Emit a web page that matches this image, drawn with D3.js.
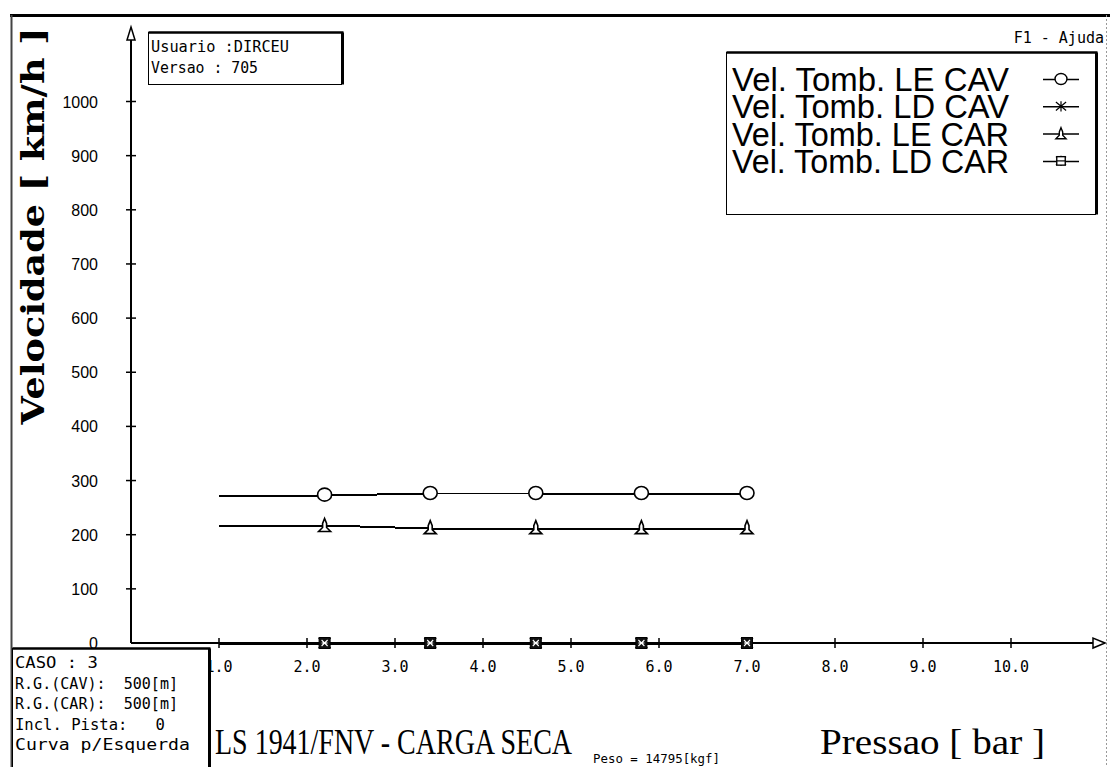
<!DOCTYPE html>
<html>
<head>
<meta charset="utf-8">
<script src="https://cdn.jsdelivr.net/npm/d3@7"></script>
<title>Velocidade x Pressao</title>
<style>
body { margin: 0; background: #fff; }
svg { display: block; }
.mono { font-family: "DejaVu Sans Mono", "Liberation Mono", monospace; }
</style>
</head>
<body>
<div id="viz"></div>
<script>

// dados
var pressao = [2.2, 3.4, 4.6, 5.8, 7.0];
var inicioLinha = 1.0;
var velLECAV = [274, 277, 277, 277, 277];
var velLDCAV = [0, 0, 0, 0, 0];
var velLECAR = [217, 213, 213, 213, 213];
var velLDCAR = [0, 0, 0, 0, 0];
var yTicks = [0, 100, 200, 300, 400, 500, 600, 700, 800, 900, 1000];
var xTicks = [1, 2, 3, 4, 5, 6, 7, 8, 9, 10];
var legenda = ["Vel. Tomb. LE CAV", "Vel. Tomb. LD CAV", "Vel. Tomb. LE CAR", "Vel. Tomb. LD CAR"];
var infoTopo = ["Usuario :DIRCEU", "Versao : 705"];
var infoCaso = ["CASO : 3", "R.G.(CAV):  500[m]", "R.G.(CAR):  500[m]", "Incl. Pista:   0", "Curva p/Esquerda"];

var W = 1110, H = 767;
var svg = d3.select("#viz").append("svg").attr("width", W).attr("height", H);

var x = d3.scaleLinear().domain([0, 10]).range([131, 1011]);
var y = d3.scaleLinear().domain([0, 1000]).range([643, 101.5]);

// moldura
svg.append("line").attr("x1", 10).attr("x2", W).attr("y1", 15.5).attr("y2", 15.5)
    .attr("stroke", "#000").attr("stroke-width", 3);
svg.append("line").attr("x1", 11.5).attr("x2", 11.5).attr("y1", 15).attr("y2", H)
    .attr("stroke", "#444").attr("stroke-width", 2);
svg.append("line").attr("x1", 1106.5).attr("x2", 1106.5).attr("y1", 15).attr("y2", H)
    .attr("stroke", "#999").attr("stroke-width", 1).attr("stroke-dasharray", "2,2");

svg.append("text").attr("class", "mono").attr("x", 1104).attr("y", 43)
    .attr("text-anchor", "end").attr("font-size", 15).text("F1 - Ajuda");

// eixos
var x0 = x(0), y0 = y(0);
svg.append("line").attr("x1", x0).attr("x2", x0).attr("y1", y0).attr("y2", 40)
    .attr("stroke", "#000").attr("stroke-width", 2);
svg.append("path").attr("d", "M" + x0 + ",27 L" + (x0 + 4) + ",40 L" + (x0 - 4) + ",40 Z")
    .attr("fill", "#fff").attr("stroke", "#000").attr("stroke-width", 1.5);
svg.append("line").attr("x1", x0).attr("x2", 1093).attr("y1", y0).attr("y2", y0)
    .attr("stroke", "#000").attr("stroke-width", 2);
svg.append("path").attr("d", "M1105," + y0 + " L1093," + (y0 - 5) + " L1093," + (y0 + 5) + " Z")
    .attr("fill", "#fff").attr("stroke", "#000").attr("stroke-width", 1.5);

svg.selectAll("line.ytick").data(yTicks.filter(function(d){ return d > 0; }))
    .enter().append("line").attr("class", "ytick")
    .attr("x1", x0 - 5).attr("x2", x0 + 5)
    .attr("y1", function(d){ return y(d); }).attr("y2", function(d){ return y(d); })
    .attr("stroke", "#000").attr("stroke-width", 1.5);
svg.selectAll("text.ylab").data(yTicks)
    .enter().append("text").attr("class", "ylab")
    .attr("x", 98).attr("y", function(d){ return y(d) + 6; })
    .attr("text-anchor", "end")
    .attr("font-family", "Liberation Sans, Arial, sans-serif").attr("font-size", 16)
    .text(function(d){ return d; });

svg.selectAll("line.xtick").data(xTicks)
    .enter().append("line").attr("class", "xtick")
    .attr("x1", function(d){ return x(d); }).attr("x2", function(d){ return x(d); })
    .attr("y1", y0 - 5).attr("y2", y0 + 5)
    .attr("stroke", "#000").attr("stroke-width", 1.5);
svg.selectAll("text.xlab").data(xTicks)
    .enter().append("text").attr("class", "xlab mono")
    .attr("x", function(d){ return x(d); }).attr("y", 672)
    .attr("text-anchor", "middle").attr("font-size", 15)
    .text(function(d){ return d.toFixed(1); });

// series
var series = [
    {v: velLECAV, m: "circle"},
    {v: velLDCAV, m: "star"},
    {v: velLECAR, m: "triangle"},
    {v: velLDCAR, m: "square"}
];

function marker(g, tipo) {
    if (tipo === "circle") {
        g.append("ellipse").attr("rx", 7).attr("ry", 6.5)
            .attr("fill", "#fff").attr("stroke", "#000").attr("stroke-width", 1.6);
    } else if (tipo === "triangle") {
        g.append("path").attr("d", "M0,-7 L2,-2 L2,2 L6,6 L-6,6 L-2,2 L-2,-2 Z")
            .attr("fill", "#fff").attr("stroke", "#000").attr("stroke-width", 1.6);
    } else if (tipo === "square") {
        g.append("rect").attr("x", -5.5).attr("y", -5.5).attr("width", 11).attr("height", 11)
            .attr("fill", "#111").attr("stroke", "#000").attr("stroke-width", 1);
        g.append("path").attr("d", "M-3,-3 L3,3 M3,-3 L-3,3 M-3,0 L3,0")
            .attr("stroke", "#fff").attr("stroke-width", 1.1);
    } else {
        g.append("path").attr("d", "M-6,-5 L6,5 M6,-5 L-6,5 M0,-6 L0,6")
            .attr("stroke", "#000").attr("stroke-width", 1.4);
    }
}

var linha = d3.line().x(function(d){ return x(d[0]); }).y(function(d){ return Math.round(y(d[1])) + 0.5; });

series.forEach(function(s) {
    var pts = [[inicioLinha, s.v[0]]].concat(pressao.map(function(p, i){ return [p, s.v[i]]; }));
    svg.append("path").attr("d", linha(pts)).attr("fill", "none")
        .attr("stroke", "#000").attr("stroke-width", 2).attr("shape-rendering", "crispEdges");
});
// ordem de desenho: estrela por baixo, quadrado por cima
[1, 3, 0, 2].forEach(function(k) {
    var s = series[k];
    svg.selectAll(null).data(pressao).enter().append("g")
        .attr("transform", function(p, i){ return "translate(" + x(p) + "," + y(s.v[i]) + ")"; })
        .each(function(){ marker(d3.select(this), s.m); });
});

// caixas
function caixa(x1, y1, w, h) {
    svg.append("rect").attr("x", x1).attr("y", y1).attr("width", w).attr("height", h)
        .attr("fill", "#fff").attr("stroke", "#000").attr("stroke-width", 1);
    svg.append("line").attr("x1", x1).attr("x2", x1 + w + 2).attr("y1", y1).attr("y2", y1)
        .attr("stroke", "#000").attr("stroke-width", 2.5);
    svg.append("line").attr("x1", x1 + w + 1).attr("x2", x1 + w + 1).attr("y1", y1).attr("y2", y1 + h)
        .attr("stroke", "#000").attr("stroke-width", 3);
}

caixa(148.5, 32.5, 193, 52);
svg.selectAll("text.topo").data(infoTopo).enter().append("text").attr("class", "topo mono")
    .attr("x", 151).attr("y", function(d, i){ return 52 + i * 21; })
    .attr("font-size", 16).attr("textLength", function(d, i){ return i ? 107 : 138; })
    .attr("lengthAdjust", "spacingAndGlyphs")
    .text(function(d){ return d; });

// legenda
caixa(726.5, 52.5, 369, 162);
var leg = svg.selectAll("g.leg").data(legenda).enter().append("g").attr("class", "leg")
    .attr("transform", function(d, i){ return "translate(0," + (79 + i * 27.3) + ")"; });
leg.append("text")
    .attr("transform", "translate(732,12) scale(1,1.3)")
    .attr("font-family", "Liberation Sans, sans-serif")
    .attr("font-size", 25).attr("textLength", 277)
    .attr("lengthAdjust", "spacingAndGlyphs")
    .text(function(d){ return d; });
leg.append("line").attr("x1", 1043).attr("x2", 1079).attr("y1", 0.5).attr("y2", 0.5)
    .attr("stroke", "#000").attr("stroke-width", 1.5);
leg.each(function(d, i){
    var g = d3.select(this).append("g").attr("transform", "translate(1061,0) scale(0.85)");
    marker(g, series[i].m === "square" ? "squareLeg" : series[i].m);
    if (series[i].m === "square") {
        g.append("rect").attr("x", -5).attr("y", -5).attr("width", 10).attr("height", 10)
            .attr("fill", "#fff").attr("stroke", "#000").attr("stroke-width", 1.6);
        g.append("line").attr("x1", -5).attr("x2", 5).attr("y1", 0).attr("y2", 0)
            .attr("stroke", "#000").attr("stroke-width", 1.4);
    }
});

// titulos
svg.append("text")
    .attr("transform", "translate(44,226) rotate(-90)")
    .attr("text-anchor", "middle")
    .attr("font-family", "DejaVu Serif, Liberation Serif, serif").attr("font-weight", "bold")
    .attr("font-size", 31).attr("textLength", 397).attr("lengthAdjust", "spacingAndGlyphs")
    .text("Velocidade [ km/h ]");

svg.append("text").attr("x", 215).attr("y", 754)
    .attr("font-family", "Liberation Serif, serif").attr("font-size", 36)
    .attr("textLength", 357).attr("lengthAdjust", "spacingAndGlyphs")
    .text("LS 1941/FNV - CARGA SECA");
svg.append("text").attr("x", 820).attr("y", 754)
    .attr("font-family", "Liberation Serif, serif").attr("font-size", 36)
    .attr("textLength", 225).attr("lengthAdjust", "spacingAndGlyphs")
    .text("Pressao [ bar ]");
svg.append("text").attr("class", "mono").attr("x", 593).attr("y", 763)
    .attr("font-size", 13).attr("textLength", 127).attr("lengthAdjust", "spacingAndGlyphs")
    .text("Peso = 14795[kgf]");

// caixa do caso
caixa(12.5, 648.5, 196, 125);
svg.selectAll("text.caso").data(infoCaso).enter().append("text").attr("class", "caso mono")
    .attr("x", 15).attr("y", function(d, i){ return 668 + i * 20.5; })
    .attr("font-size", 15).attr("xml:space", "preserve")
    .attr("textLength", function(d, i){ return [83, 163, 163, 150, 175][i]; })
    .attr("lengthAdjust", "spacingAndGlyphs")
    .text(function(d){ return d; });

</script>
</body>
</html>
